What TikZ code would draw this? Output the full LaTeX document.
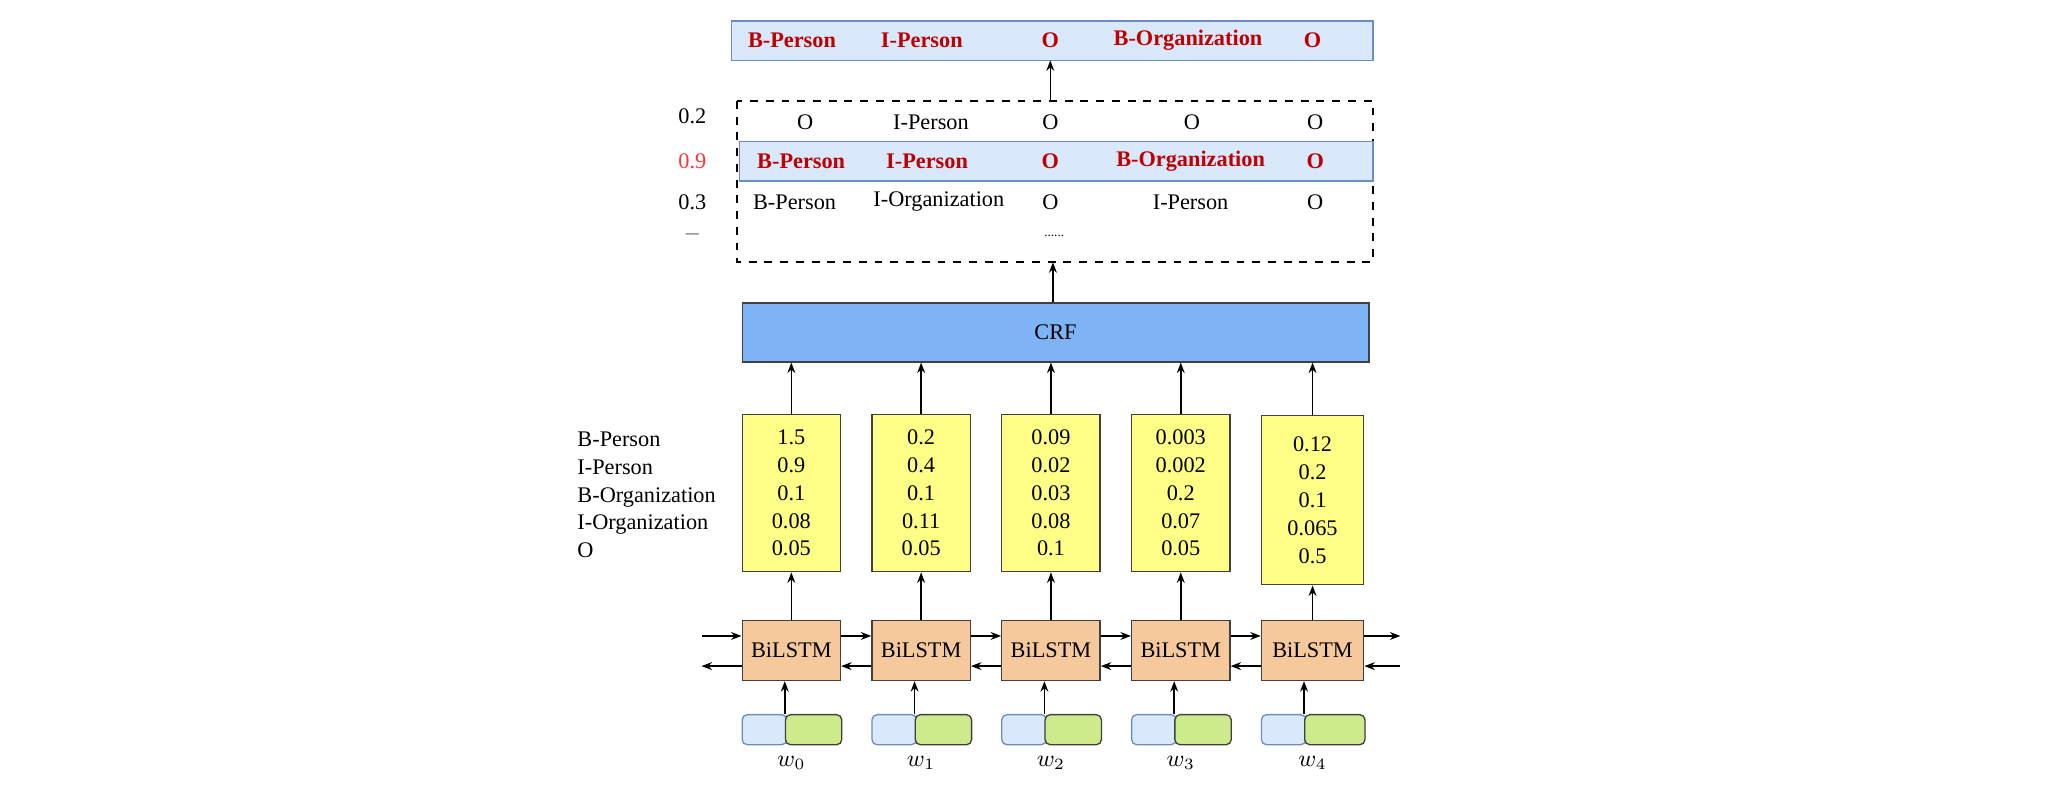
\documentclass[tikz,border=0pt]{standalone}
\usepackage{fontspec}
\setmainfont{Liberation Serif}
\usetikzlibrary{arrows.meta}
\begin{document}
\begin{tikzpicture}[x=0.5pt,y=-0.5pt,
 font=\fontsize{8.5}{10}\selectfont,
 arr/.style={-{Stealth[length=4pt,width=3pt]},line width=0.6pt},
 box/.style={draw=black!75,line width=0.5pt},
 rd/.style={text=red!75!black,font=\fontsize{8.5}{10}\selectfont\bfseries},
 t/.style={inner sep=0pt,anchor=center}]
\useasboundingbox (0,0) rectangle (1568,609);
\definecolor{lb}{HTML}{DAE8FC}\definecolor{lbd}{HTML}{6C8EBF}
\definecolor{yl}{HTML}{FFFF88}\definecolor{orng}{HTML}{F5C99C}
\definecolor{grn}{HTML}{CDEB8B}\definecolor{crf}{HTML}{7EB3F5}
% top result
\draw[draw=lbd,fill=lb,line width=0.6pt] (558,16) rectangle (1047,46);
\coordinate (topb) at (801,46);
\node[t,rd] (r1) at (604,31) {B-Person};
\node[t,rd] (r2) at (703,31) {I-Person};
\node[t,rd] (r3) at (801,31) {O};
\node[t,rd] (r4) at (906,31) {B-Organization};
\node[t,rd] (r5) at (1001,31) {O};
% candidate box
\draw[dashed,line width=0.6pt] (562,77) rectangle (1047,200);
\coordinate (dt) at (801,77);
\coordinate (db) at (803,200);
\draw[draw=lbd,fill=lb,line width=0.6pt] (564,108) rectangle (1047,138);
\node[t] (s1) at (528,89) {0.2};
\node[t,text=red!80] (s2) at (528,123) {0.9};
\node[t] (s3) at (528,154) {0.3};
\node[t] (s4) at (528,180) {\tiny ---};
\node[t] (a1) at (614,93) {O};
\node[t] (a2) at (710,93) {I-Person};
\node[t] (a3) at (801,93) {O};
\node[t] (a4) at (909,93) {O};
\node[t] (a5) at (1003,93) {O};
\node[t,rd] (b1) at (611,123) {B-Person};
\node[t,rd] (b2) at (707,123) {I-Person};
\node[t,rd] (b3) at (801,123) {O};
\node[t,rd] (b4) at (908,123) {B-Organization};
\node[t,rd] (b5) at (1003,123) {O};
\node[t] (c1) at (606,154) {B-Person};
\node[t] (c2) at (716,154) {I-Organization};
\node[t] (c3) at (801,154) {O};
\node[t] (c4) at (908,154) {I-Person};
\node[t] (c5) at (1003,154) {O};
\node[t] (d3) at (804,180) {\tiny ......};
\draw[arr] (dt) -- (topb);
% CRF
\node[box,fill=crf,minimum width=239pt,minimum height=22.5pt,inner sep=0pt] (crf) at (805,253.5) {CRF};
\draw[arr] (crf.north -| db) -- (db);
% labels
\node[anchor=west,align=left,inner sep=0pt,font=\fontsize{8.5}{10.6}\selectfont] (lab) at (440,377.5) {B-Person\\I-Person\\B-Organization\\I-Organization\\O};
% columns
\foreach \i/\cx/\yt/\yb/\w/\vals in {0/603.5/316/436/75/{1.5\\0.9\\0.1\\0.08\\0.05},1/702.5/316/436/75/{0.2\\0.4\\0.1\\0.11\\0.05},2/801.5/316/436/75/{0.09\\0.02\\0.03\\0.08\\0.1},3/900.5/316/436/75/{0.003\\0.002\\0.2\\0.07\\0.05},4/1001/317/446/78/{0.12\\0.2\\0.1\\0.065\\0.5}}{
 \node[box,fill=yl,minimum width=\w*0.5pt,minimum height={(\yb-\yt)*0.5pt},inner sep=0pt,align=center,font=\fontsize{8.5}{10.6}\selectfont] (y\i) at (\cx,{(\yt+\yb)/2}) {\vals};
 \node[box,fill=orng,minimum width=\w*0.5pt,minimum height=23pt,inner sep=0pt] (l\i) at (\cx,496) {BiLSTM};
 \draw[draw=lbd,fill=lb,rounded corners=2pt,line width=0.5pt] ({\cx-\w/2},545) rectangle ({\cx-\w/2+34},568);
 \node[box,fill=grn,rounded corners=2pt,minimum width={(\w-32)*0.5pt},minimum height=11.5pt,inner sep=0pt] (e\i) at ({\cx+17},556.5) {};
 \node[t,font=\fontsize{9}{10}\selectfont] (w\i) at (\cx,582) {$w_{\i}$};
 \draw[arr] (l\i.north) -- (y\i.south);
 \draw[arr] (y\i.north) -- (y\i.north |- crf.south);
 \draw[arr] (e\i.north west) -- (e\i.north west |- l\i.south);
}
\foreach \a/\b in {0/1,1/2,2/3,3/4}{
 \draw[arr] ([yshift=5.5pt]l\a.east) -- ([yshift=5.5pt]l\b.west);
 \draw[arr] ([yshift=-6pt]l\b.west) -- ([yshift=-6pt]l\a.east);
}
\coordinate (li) at (535,485); \coordinate (lo) at (535,508);
\coordinate (ro) at (1068,485); \coordinate (ri) at (1068,508);
\draw[arr] (li) -- (li -| l0.west);
\draw[arr] (lo -| l0.west) -- (lo);
\draw[arr] (ro -| l4.east) -- (ro);
\draw[arr] (ri) -- (ri -| l4.east);
\end{tikzpicture}
\end{document}
